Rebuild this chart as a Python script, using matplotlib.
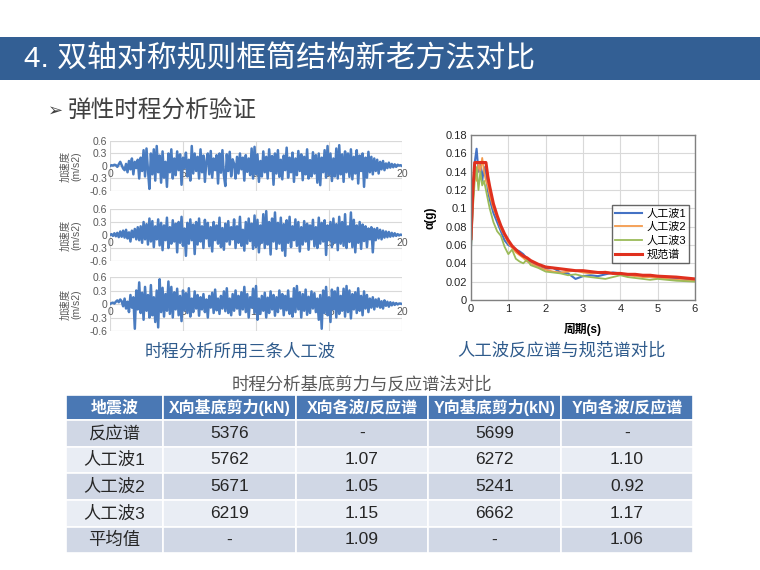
import matplotlib
matplotlib.use('Agg')
import matplotlib.pyplot as plt
from matplotlib.patches import Rectangle
from matplotlib.ticker import FormatStrFormatter
import numpy as np

plt.rcParams['font.family'] = ['Liberation Sans', 'Noto Sans CJK SC', 'DejaVu Sans']

W, H = 760, 570

# ---- data: three artificial waves, dt = 0.1 s, 0 - 20 s (m/s2)
dt = 0.1
wave1 = [0.00, 0.02, 0.01, 0.03, 0.02, -0.02, 0.04, 0.10, 0.02, -0.06, -0.10, 0.05, -0.15, 0.12, -0.08, 0.18, -0.20, 0.10, -0.05, 0.15,
         -0.30, 0.20, -0.12, 0.38, -0.25, 0.42, -0.10, -0.55, 0.30, -0.20, 0.40, -0.35, 0.48, -0.15, 0.25, -0.40, 0.35, -0.28, 0.10, -0.50,
         0.30, -0.15, 0.40, -0.30, 0.18, -0.22, 0.35, -0.10, 0.28, -0.45, 0.20, -0.05, 0.32, -0.25, 0.15, -0.35, 0.48, -0.18, 0.30, -0.12,
         0.22, -0.30, 0.40, -0.15, 0.25, -0.38, 0.12, 0.30, -0.20, 0.36, -0.28, 0.18, -0.10, 0.26, -0.42, 0.30, -0.16, 0.38, -0.22, -0.48,
         0.28, -0.12, 0.34, -0.25, 0.16, 0.05, -0.30, 0.22, -0.18, 0.30, -0.08, 0.20, -0.35, 0.26, -0.14, 0.18, -0.22, 0.42, -0.30, 0.46,
         -0.20, 0.28, -0.38, 0.12, -0.25, 0.35, -0.15, 0.22, -0.30, 0.40, -0.12, 0.24, -0.45, 0.30, -0.18, 0.38, -0.26, 0.15, -0.32, 0.25,
         -0.10, 0.44, -0.28, 0.20, -0.15, 0.32, -0.38, 0.18, -0.22, 0.36, -0.12, 0.28, -0.34, 0.22, -0.20, 0.40, -0.30, 0.14, -0.25, 0.33,
         -0.18, 0.26, -0.40, 0.30, -0.46, 0.20, -0.15, 0.38, -0.28, 0.48, -0.22, 0.30, -0.36, 0.18, -0.25, 0.42, -0.30, 0.50, -0.20, 0.28,
         -0.38, 0.35, -0.15, 0.30, -0.26, 0.40, -0.32, 0.22, -0.18, 0.38, -0.42, 0.25, -0.12, 0.30, -0.50, 0.20, -0.28, 0.34, -0.15, 0.22,
         -0.20, 0.18, -0.12, 0.15, -0.18, 0.10, -0.08, 0.12, -0.10, 0.06, -0.05, 0.08, -0.04, 0.05, -0.03, 0.04, -0.02, 0.03, 0.01, 0.02,
         0.00]
wave2 = [0.00, 0.02, -0.02, 0.04, -0.03, 0.05, -0.05, 0.08, -0.04, 0.10, -0.06, 0.12, -0.08, 0.06, -0.15, 0.10, -0.05, 0.14, -0.10, 0.18,
         -0.12, 0.20, -0.18, 0.30, -0.10, 0.25, -0.22, 0.38, -0.15, 0.32, -0.28, 0.20, -0.10, 0.36, -0.24, 0.28, -0.35, 0.22, -0.12, 0.40,
         -0.30, 0.18, -0.20, 0.34, -0.15, 0.26, -0.40, 0.30, -0.18, 0.42, -0.25, 0.15, -0.48, 0.28, -0.20, 0.36, -0.12, 0.24, -0.44, 0.30,
         -0.22, 0.38, -0.15, 0.20, -0.30, 0.35, -0.08, 0.28, -0.26, 0.18, -0.38, 0.30, -0.12, 0.22, -0.20, 0.40, -0.28, 0.16, -0.34, 0.26,
         -0.15, 0.32, -0.22, 0.18, -0.10, 0.36, -0.30, 0.20, -0.18, 0.42, -0.25, 0.12, -0.36, 0.30, -0.20, 0.38, -0.14, 0.26, -0.32, 0.45,
         -0.28, 0.35, -0.40, 0.22, -0.18, 0.48, -0.30, 0.55, -0.22, 0.30, -0.45, 0.38, -0.15, 0.52, -0.32, 0.28, -0.20, 0.40, -0.36, 0.25,
         -0.48, 0.34, -0.18, 0.42, -0.28, 0.20, -0.12, 0.36, -0.25, 0.30, -0.38, 0.18, -0.22, 0.32, -0.15, 0.26, -0.34, 0.22, -0.10, 0.35,
         -0.26, 0.18, -0.30, 0.40, -0.20, 0.28, -0.15, 0.34, -0.46, 0.22, -0.12, 0.30, -0.28, 0.38, -0.18, 0.25, -0.35, 0.42, -0.20, 0.30,
         -0.25, 0.48, -0.30, 0.20, -0.16, 0.52, -0.28, 0.35, -0.40, 0.22, -0.18, 0.30, -0.32, 0.24, -0.14, 0.20, -0.28, 0.15, -0.10, 0.18,
         -0.40, 0.14, -0.12, 0.16, -0.08, 0.12, -0.10, 0.10, -0.06, 0.08, -0.05, 0.07, -0.04, 0.05, -0.03, 0.04, -0.02, 0.02, -0.01, 0.01,
         0.00]
wave3 = [0.00, 0.02, 0.03, 0.01, 0.05, 0.08, 0.04, 0.10, 0.06, -0.05, 0.12, -0.10, 0.05, -0.18, 0.20, -0.08, 0.15, -0.55, 0.30, -0.12,
         0.48, -0.20, 0.25, -0.35, 0.38, -0.15, 0.20, -0.30, 0.42, -0.25, 0.15, -0.40, 0.30, -0.52, 0.55, -0.18, 0.36, -0.28, 0.22, -0.15,
         0.50, -0.22, 0.38, -0.30, 0.26, -0.12, 0.34, -0.25, 0.18, -0.38, 0.30, -0.15, 0.24, -0.20, 0.35, -0.28, 0.12, -0.18, 0.28, -0.10,
         0.20, -0.26, 0.15, -0.12, 0.22, -0.18, 0.10, -0.30, 0.18, -0.08, 0.25, -0.20, 0.32, -0.14, 0.12, -0.22, 0.18, -0.10, 0.28, -0.16,
         0.35, -0.20, 0.12, -0.25, 0.22, -0.15, 0.30, -0.10, 0.18, -0.24, 0.26, -0.12, 0.38, -0.18, 0.22, -0.30, 0.15, -0.08, 0.34, -0.20,
         0.40, -0.35, 0.12, -0.22, 0.18, -0.15, 0.25, -0.30, 0.14, -0.20, 0.28, -0.12, 0.20, -0.26, 0.15, -0.18, 0.30, -0.10, 0.22, -0.25,
         0.18, -0.14, 0.30, -0.22, 0.12, -0.28, 0.35, -0.18, 0.40, -0.12, 0.26, -0.30, 0.22, -0.15, 0.32, -0.24, 0.16, -0.20, 0.28, -0.10,
         0.24, -0.18, 0.12, -0.35, 0.20, -0.55, 0.30, -0.20, 0.38, -0.25, 0.15, -0.40, 0.32, -0.12, 0.28, -0.30, 0.36, -0.22, 0.18, -0.15,
         0.34, -0.28, 0.40, -0.18, 0.30, -0.32, 0.22, -0.12, 0.26, -0.20, 0.35, -0.15, 0.18, -0.25, 0.28, -0.10, 0.20, -0.18, 0.12, -0.08,
         0.15, -0.12, 0.10, -0.06, 0.12, -0.08, 0.06, -0.10, 0.08, -0.04, 0.05, -0.06, 0.04, -0.03, 0.03, -0.02, 0.02, -0.01, 0.01, 0.01,
         0.00]

# ---- data: response spectra
period = [0, 0.05, 0.1, 0.15, 0.2, 0.25, 0.3, 0.35, 0.4, 0.45, 0.5, 0.6, 0.7, 0.8, 0.9, 1.0, 1.1, 1.2, 1.3, 1.4,
          1.5, 1.6, 1.8, 2.0, 2.2, 2.4, 2.6, 2.8, 3.0, 3.2, 3.4, 3.6, 3.8, 4.0, 4.2, 4.4, 4.6, 4.8, 5.0, 5.5, 6.0]
spec_w1 = [0.058, 0.11, 0.15, 0.165, 0.14, 0.15, 0.13, 0.145, 0.14, 0.12, 0.11, 0.095, 0.085, 0.075, 0.065, 0.06, 0.058, 0.055, 0.053, 0.05,
           0.045, 0.041, 0.036, 0.034, 0.035, 0.030, 0.029, 0.023, 0.026, 0.027, 0.026, 0.028, 0.030, 0.029, 0.027, 0.028, 0.026, 0.025, 0.025, 0.024, 0.022]
spec_w2 = [0.062, 0.12, 0.145, 0.13, 0.15, 0.14, 0.155, 0.14, 0.13, 0.125, 0.115, 0.10, 0.09, 0.078, 0.07, 0.062, 0.057, 0.052, 0.049, 0.046,
           0.042, 0.040, 0.036, 0.033, 0.031, 0.030, 0.031, 0.032, 0.030, 0.029, 0.030, 0.031, 0.029, 0.028, 0.027, 0.026, 0.025, 0.025, 0.024, 0.022, 0.021]
spec_w3 = [0.055, 0.10, 0.13, 0.145, 0.12, 0.14, 0.125, 0.13, 0.12, 0.11, 0.10, 0.085, 0.075, 0.07, 0.058, 0.05, 0.055, 0.045, 0.042, 0.040,
           0.044, 0.038, 0.035, 0.031, 0.030, 0.029, 0.027, 0.028, 0.026, 0.025, 0.024, 0.023, 0.025, 0.027, 0.025, 0.024, 0.023, 0.022, 0.023, 0.021, 0.020]
spec_code = [0.067, 0.12, 0.15, 0.15, 0.15, 0.15, 0.15, 0.15, 0.15, 0.135, 0.124, 0.105, 0.092, 0.081, 0.072, 0.065, 0.059, 0.055, 0.051, 0.048,
             0.046, 0.043, 0.039, 0.036, 0.035, 0.034, 0.033, 0.032, 0.032, 0.031, 0.030, 0.030, 0.029, 0.029, 0.028, 0.028, 0.027, 0.027, 0.026, 0.025, 0.023]
spec_labels = ['人工波1', '人工波2', '人工波3', '规范谱']

# ---- data: table
col_header = ['地震波', 'X向基底剪力(kN)', 'X向各波/反应谱', 'Y向基底剪力(kN)', 'Y向各波/反应谱']
row_names = ['反应谱', '人工波1', '人工波2', '人工波3', '平均值']
x_shear = ['5376', '5762', '5671', '6219', '-']
x_ratio = ['-', '1.07', '1.05', '1.15', '1.09']
y_shear = ['5699', '6272', '5241', '6662', '-']
y_ratio = ['-', '1.10', '0.92', '1.17', '1.06']


def px(x0, y0, x1, y1):
    return [x0 / W, 1 - y1 / H, (x1 - x0) / W, (y1 - y0) / H]


fig = plt.figure(figsize=(7.6, 5.7), dpi=100)

# background / slide
bg = fig.add_axes([0, 0, 1, 1])
bg.set_xlim(0, W)
bg.set_ylim(H, 0)
bg.axis('off')
bg.add_patch(Rectangle((0, 37), W, 43, color='#335f94', lw=0))
bg.text(24, 59, '4. 双轴对称规则框筒结构新老方法对比', color='white', fontsize=21.5, va='center', ha='left')
bg.text(48, 111, '➢', color='#404040', fontsize=13, va='center', ha='left', family=['DejaVu Sans'])
bg.text(68, 111, '弹性时程分析验证', color='#404040', fontsize=17, va='center', ha='left')
bg.text(240, 352, '时程分析所用三条人工波', color='#2f5b8c', fontsize=12.5, va='center', ha='center')
bg.text(561, 350, '人工波反应谱与规范谱对比', color='#2f5b8c', fontsize=12.5, va='center', ha='center')
bg.text(362, 384, '时程分析基底剪力与反应谱法对比', color='#595959', fontsize=12.5, va='center', ha='center')

# table
col_x = [66, 163, 296, 428, 561, 693]
row_y = [395, 420, 447, 473, 500, 527, 553]
columns = [row_names, x_shear, x_ratio, y_shear, y_ratio]
for j in range(5):
    x0, x1 = col_x[j], col_x[j + 1]
    bg.add_patch(Rectangle((x0, row_y[0]), x1 - x0, row_y[1] - row_y[0], facecolor='#4a78b4', edgecolor='white', lw=1.2))
    bg.text((x0 + x1) / 2, (row_y[0] + row_y[1]) / 2, col_header[j], color='white', fontsize=11.5,
            fontweight='bold', ha='center', va='center')
    for i in range(5):
        y0, y1 = row_y[i + 1], row_y[i + 2]
        fc = '#d0d7e5' if i % 2 == 0 else '#e9edf4'
        bg.add_patch(Rectangle((x0, y0), x1 - x0, y1 - y0, facecolor=fc, edgecolor='white', lw=1.2))
        bg.text((x0 + x1) / 2, (y0 + y1) / 2, columns[j][i], color='#262626', fontsize=12.5,
                ha='center', va='center')

# time history panels
t = np.arange(len(wave1)) * dt
panels = [(141, 191, wave1), (209, 261, wave2), (277, 331, wave3)]
for y0, y1, w in panels:
    ax = fig.add_axes(px(110, y0, 402, y1))
    ax.plot(t, w, color='#4a7cc0', lw=1.8, zorder=3)
    ax.set_xlim(0, 20)
    ax.set_ylim(-0.6, 0.6)
    ax.set_xticks([0, 5, 10, 15, 20])
    ax.set_yticks([-0.6, -0.3, 0, 0.3, 0.6])
    ax.set_yticklabels(['-0.6', '-0.3', '0', '0.3', '0.6'])
    for s in ['top', 'left', 'right']:
        ax.spines[s].set_visible(False)
    ax.spines['bottom'].set_position(('data', 0))
    ax.spines['bottom'].set_visible(False)
    ax.grid(True, color='#d9d9d9', lw=0.8, zorder=0)
    ax.axhline(0.6, color='#d9d9d9', lw=0.8, zorder=0)
    ax.axhline(-0.6, color='#d9d9d9', lw=0.8, zorder=0)
    ax.tick_params(length=0, labelsize=7.5, colors='#595959', pad=2)
    ax.patch.set_alpha(0)
    fig.text(71 / W, 1 - ((y0 + y1) / 2) / H, '加速度\n(m/s2)', rotation=90, fontsize=7.5,
             color='#595959', ha='center', va='center', linespacing=1.1)

# response spectrum
ax2 = fig.add_axes(px(471, 135, 695, 300))
ax2.plot(period, spec_w1, color='#4472c4', lw=1.5, label=spec_labels[0])
ax2.plot(period, spec_w2, color='#f39a4c', lw=1.3, label=spec_labels[1])
ax2.plot(period, spec_w3, color='#9bbb59', lw=1.3, label=spec_labels[2])
ax2.plot(period, spec_code, color='#e0301e', lw=2.2, label=spec_labels[3])
ax2.set_xlim(0, 6)
ax2.set_ylim(0, 0.18)
ax2.set_xticks(range(7))
ax2.set_yticks(np.arange(0, 0.181, 0.02))
ax2.yaxis.set_major_formatter(FormatStrFormatter('%g'))
ax2.grid(True, color='#d9d9d9', lw=0.8)
ax2.set_axisbelow(True)
for s in ax2.spines.values():
    s.set_color('#808080')
    s.set_linewidth(1.0)
ax2.tick_params(length=0, labelsize=8, colors='#262626', pad=3)
ax2.set_xlabel('周期(s)', fontsize=8.5, fontweight='bold', labelpad=6)
ax2.set_ylabel('α(g)', fontsize=8.5, fontweight='bold', labelpad=6)
leg = ax2.legend(loc='center right', bbox_to_anchor=(1.0, 0.4), fontsize=8, frameon=True,
                 fancybox=False, borderpad=0.3, labelspacing=0.3, handlelength=2.4, handletextpad=0.4)
leg.get_frame().set_edgecolor('#404040')
leg.get_frame().set_linewidth(1.0)

fig.savefig('out.png', dpi=100)
